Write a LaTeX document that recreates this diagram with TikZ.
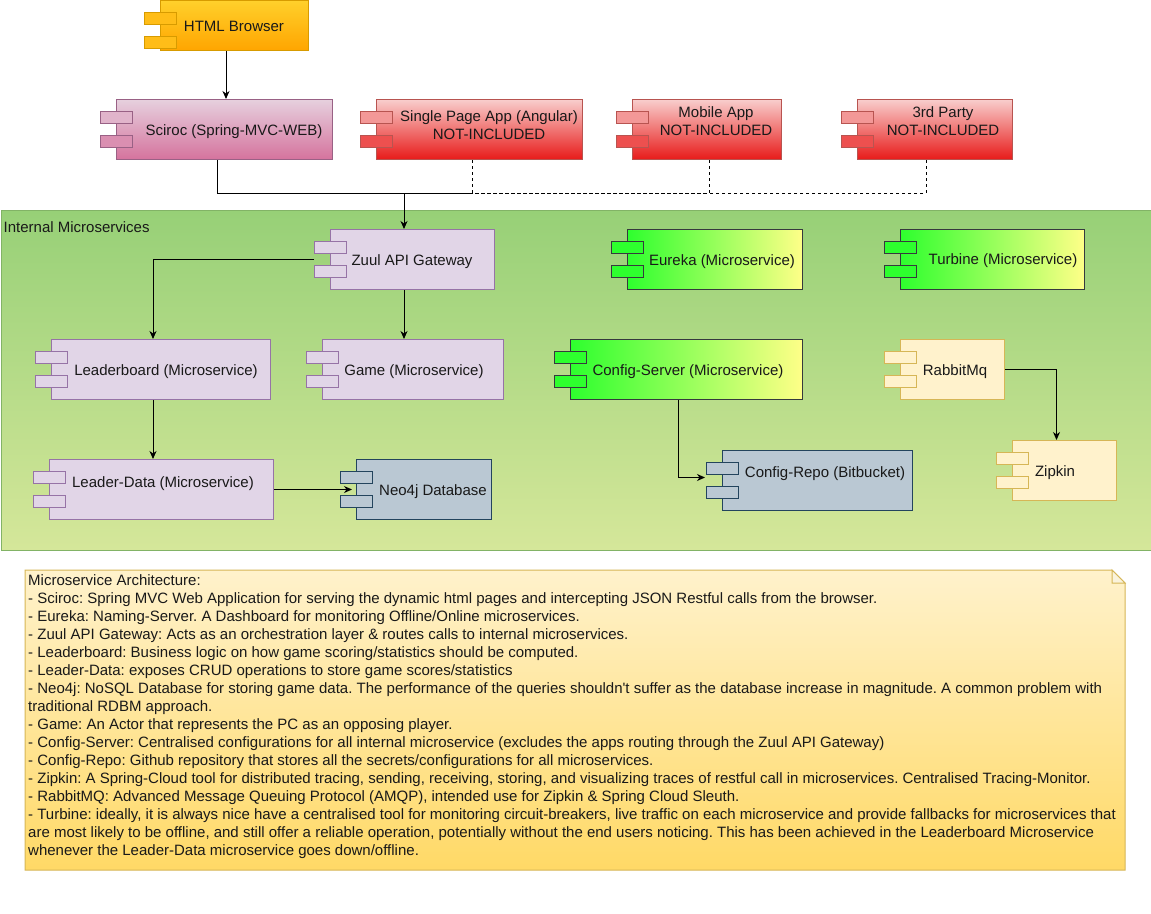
\documentclass[tikz,border=0pt]{standalone}
\usepackage{fontspec}
\setmainfont{Liberation Sans}
\usetikzlibrary{arrows.meta,calc}
\frenchspacing
\definecolor{grTop}{HTML}{97D077}
\definecolor{grBot}{HTML}{D5E79A}
\definecolor{grLine}{HTML}{82B366}
\definecolor{orTop}{HTML}{FFD02B}
\definecolor{orBot}{HTML}{FFA500}
\definecolor{orLine}{HTML}{D79B00}
\definecolor{piTop}{HTML}{E6D0DE}
\definecolor{piBot}{HTML}{D5739D}
\definecolor{piLine}{HTML}{996185}
\definecolor{reTop}{HTML}{F8CECC}
\definecolor{reBot}{HTML}{E81A1A}
\definecolor{reLine}{HTML}{B85450}
\definecolor{puFill}{HTML}{E1D5E7}
\definecolor{puLine}{HTML}{9673A6}
\definecolor{blFill}{HTML}{BAC8D3}
\definecolor{blLine}{HTML}{23445D}
\definecolor{gnLeft}{HTML}{2EFF2E}
\definecolor{gnRight}{HTML}{FFFF88}
\definecolor{gnLine}{HTML}{36393D}
\definecolor{yeFill}{HTML}{FFF2CC}
\definecolor{yeLine}{HTML}{D6B656}
\definecolor{noteTop}{HTML}{FFF2CC}
\definecolor{noteBot}{HTML}{FFD966}
\newcommand\comp[7]{%
  \node[#6, anchor=north west, inner sep=0, line width=1pt, minimum width=#4, minimum height=#5] (#1) at (#2,#3) {};
  \node[#7, anchor=north west, inner sep=0, line width=1pt, minimum width=32, minimum height=12] (#1-t1) at ($(#1.north west)+(-16,12)$) {};
  \node[#7, anchor=north west, inner sep=0, line width=1pt, minimum width=32, minimum height=12] (#1-t2) at ($(#1.north west)+(-16,36)$) {};
}
\tikzset{
  orbox/.style={draw=orLine, top color=orTop, bottom color=orBot},
  ortab/.style={draw=orLine, fill=orBot!45!orTop},
  pibox/.style={draw=piLine, top color=piTop, bottom color=piBot},
  pitab1/.style={draw=piLine, fill=piBot!30!piTop},
  pitab2/.style={draw=piLine, fill=piBot!70!piTop},
  rebox/.style={draw=reLine, top color=reTop, bottom color=reBot},
  retab1/.style={draw=reLine, fill=reBot!30!reTop},
  retab2/.style={draw=reLine, fill=reBot!70!reTop},
  pubox/.style={draw=puLine, fill=puFill},
  blbox/.style={draw=blLine, fill=blFill},
  gnbox/.style={draw=gnLine, left color=gnLeft, right color=gnRight},
  gntab/.style={draw=gnLine, fill=gnLeft},
  yebox/.style={draw=yeLine, fill=yeFill},
  lbl/.style={font=\fontsize{15}{18}\selectfont, anchor=base, inner sep=0, text=black!90},
  arr/.style={line width=1pt, -{Stealth[length=8pt,width=7pt,inset=2.5pt]}},
  dsh/.style={line width=1pt, dash pattern=on 3pt off 3pt},
}
\begin{document}
\begin{tikzpicture}[x=1pt,y=-1pt]
\useasboundingbox (0,0) rectangle (1151,913);
\fill[white] (0,0) rectangle (1151,913);
% container
\node[anchor=north west, inner sep=0, draw=grLine, line width=1pt, top color=grTop, bottom color=grBot, minimum width=1150, minimum height=340] (internal) at (0.5,210) {};
\node[lbl, anchor=base west] (internal-lbl) at (3.5,232.5) {Internal Microservices};
% components
\comp{html}{160}{0}{148}{50}{orbox}{ortab}
\node[lbl] (html-lbl) at (234,31.7) {HTML Browser};
\node[pibox, anchor=north west, inner sep=0, line width=1pt, minimum width=216, minimum height=60] (sciroc) at (116,99) {};
\node[pitab1, anchor=north west, inner sep=0, line width=1pt, minimum width=32, minimum height=12] (sciroc-t1) at ($(sciroc.north west)+(-16,12)$) {};
\node[pitab2, anchor=north west, inner sep=0, line width=1pt, minimum width=32, minimum height=12] (sciroc-t2) at ($(sciroc.north west)+(-16,36)$) {};
\node[lbl] (sciroc-lbl) at (234,135) {Sciroc (Spring-MVC-WEB)};
\node[rebox, anchor=north west, inner sep=0, line width=1pt, minimum width=206, minimum height=60] (spa) at (376,99) {};
\node[retab1, anchor=north west, inner sep=0, line width=1pt, minimum width=32, minimum height=12] (spa-t1) at ($(spa.north west)+(-16,12)$) {};
\node[retab2, anchor=north west, inner sep=0, line width=1pt, minimum width=32, minimum height=12] (spa-t2) at ($(spa.north west)+(-16,36)$) {};
\node[lbl] (spa-lbl1) at (489,121) {Single Page App (Angular)};
\node[lbl] (spa-lbl2) at (489,139) {NOT-INCLUDED};
\node[rebox, anchor=north west, inner sep=0, line width=1pt, minimum width=149, minimum height=60] (mob) at (632,99) {};
\node[retab1, anchor=north west, inner sep=0, line width=1pt, minimum width=32, minimum height=12] (mob-t1) at ($(mob.north west)+(-16,12)$) {};
\node[retab2, anchor=north west, inner sep=0, line width=1pt, minimum width=32, minimum height=12] (mob-t2) at ($(mob.north west)+(-16,36)$) {};
\node[lbl] (mob-lbl1) at (716,117.4) {Mobile App};
\node[lbl] (mob-lbl2) at (716,135.4) {NOT-INCLUDED};
\node[rebox, anchor=north west, inner sep=0, line width=1pt, minimum width=155, minimum height=60] (third) at (857,99) {};
\node[retab1, anchor=north west, inner sep=0, line width=1pt, minimum width=32, minimum height=12] (third-t1) at ($(third.north west)+(-16,12)$) {};
\node[retab2, anchor=north west, inner sep=0, line width=1pt, minimum width=32, minimum height=12] (third-t2) at ($(third.north west)+(-16,36)$) {};
\node[lbl] (third-lbl1) at (943,117.4) {3rd Party};
\node[lbl] (third-lbl2) at (943,135.4) {NOT-INCLUDED};
\comp{zuul}{330}{229}{164}{60}{pubox}{pubox}
\node[lbl] (zuul-lbl) at (412,265) {Zuul API Gateway};
\comp{lb}{51}{339}{219}{60}{pubox}{pubox}
\node[lbl] (lb-lbl) at (166,375.5) {Leaderboard (Microservice)};
\comp{game}{322}{339}{181}{60}{pubox}{pubox}
\node[lbl] (game-lbl) at (414,375.5) {Game (Microservice)};
\comp{ld}{49}{459}{224}{60}{pubox}{pubox}
\node[lbl] (ld-lbl) at (163,487.5) {Leader-Data (Microservice)};
\comp{neo}{356}{459}{135}{60}{blbox}{blbox}
\node[lbl] (neo-lbl) at (433,495.5) {Neo4j Database};
\comp{eur}{627}{229}{175}{60}{gnbox}{gntab}
\node[lbl] (eur-lbl) at (722,265.5) {Eureka (Microservice)};
\comp{tur}{900}{229}{184}{60}{gnbox}{gntab}
\node[lbl] (tur-lbl) at (1003,264.5) {Turbine (Microservice)};
\comp{cs}{570}{339}{232}{60}{gnbox}{gntab}
\node[lbl] (cs-lbl) at (688,375.5) {Config-Server (Microservice)};
\comp{rab}{900}{339}{104}{60}{yebox}{yebox}
\node[lbl] (rab-lbl) at (955,375.5) {RabbitMq};
\comp{cr}{722}{450}{190}{60}{blbox}{blbox}
\node[lbl] (cr-lbl) at (825,477) {Config-Repo (Bitbucket)};
\comp{zip}{1012}{440}{104}{60}{yebox}{yebox}
\node[lbl] (zip-lbl) at (1055,476) {Zipkin};
% connectors
\draw[arr] ($(html.south west)+(66,0)$) -- ($(sciroc.north west)+(110,0)$);
\draw[dsh] ($(spa.south west)+(96,0)$) |- ($(zuul.north west)+(74,-36)$);
\draw[dsh] ($(mob.south west)+(77,0)$) |- ($(zuul.north west)+(74,-36)$);
\draw[dsh] ($(third.south west)+(69,0)$) |- ($(zuul.north west)+(74,-36)$);
\draw[arr] ($(sciroc.south west)+(101,0)$) |- ($(zuul.north west)+(74,-36)$) -- ($(zuul.north west)+(74,0)$);
\draw[arr] (zuul.west -| zuul-t1.west) -| ($(lb.north west)+(102,0)$);
\draw[arr] ($(zuul.south west)+(74,0)$) -- ($(game.north west)+(82,0)$);
\draw[arr] ($(lb.south west)+(102,0)$) -- ($(ld.north west)+(104,0)$);
\draw[arr] (ld.east) -- ($(neo.west)+(-4,0)$);
\draw[arr] ($(cs.south west)+(108.5,0)$) |- ($(cr.north west)+(-17,27.5)$);
\draw[arr] (rab.east) -| ($(zip.north west)+(44.5,0)$);
% note
\path[draw=yeLine, line width=1pt, top color=noteTop, bottom color=noteBot] (25,570) -- (1112,570) -- (1125,583) -- (1125,870) -- (25,870) -- cycle;
\draw[yeLine, line width=1pt, fill=noteTop!70!yeLine!40] (1112,570) -- (1112,583) -- (1125,583) -- cycle;
\node[anchor=north west, align=left, inner sep=0, font=\fontsize{15}{18}\selectfont, text=black!90] (note) at (28,574.7) {\rule{0pt}{11pt}Microservice Architecture:\\
- Sciroc: Spring MVC Web Application for serving the dynamic html pages and intercepting JSON Restful calls from the browser.\\
- Eureka: Naming-Server. A Dashboard for monitoring Offline/Online microservices.\\
- Zuul API Gateway: Acts as an orchestration layer \& routes calls to internal microservices.\\
- Leaderboard: Business logic on how game scoring/statistics should be computed.\\
- Leader-Data: exposes CRUD operations to store game scores/statistics\\
- Neo4j: NoSQL Database for storing game data. The performance of the queries shouldn\textquotesingle t suffer as the database increase in magnitude. A common problem with\\
traditional RDBM approach.\\
- Game: An Actor that represents the PC as an opposing player.\\
- Config-Server: Centralised configurations for all internal microservice (excludes the apps routing through the Zuul API Gateway)\\
- Config-Repo: Github repository that stores all the secrets/configurations for all microservices.\\
- Zipkin: A Spring-Cloud tool for distributed tracing, sending, receiving, storing, and visualizing traces of restful call in microservices. Centralised Tracing-Monitor.\\
- RabbitMQ: Advanced Message Queuing Protocol (AMQP), intended use for Zipkin \& Spring Cloud Sleuth.\\
- Turbine: ideally, it is always nice have a centralised tool for monitoring circuit-breakers, live traffic on each microservice and provide fallbacks for microservices that\\
are most likely to be offline, and still offer a reliable operation, potentially without the end users noticing. This has been achieved in the Leaderboard Microservice\\
whenever the Leader-Data microservice goes down/offline.};
\end{tikzpicture}
\end{document}
